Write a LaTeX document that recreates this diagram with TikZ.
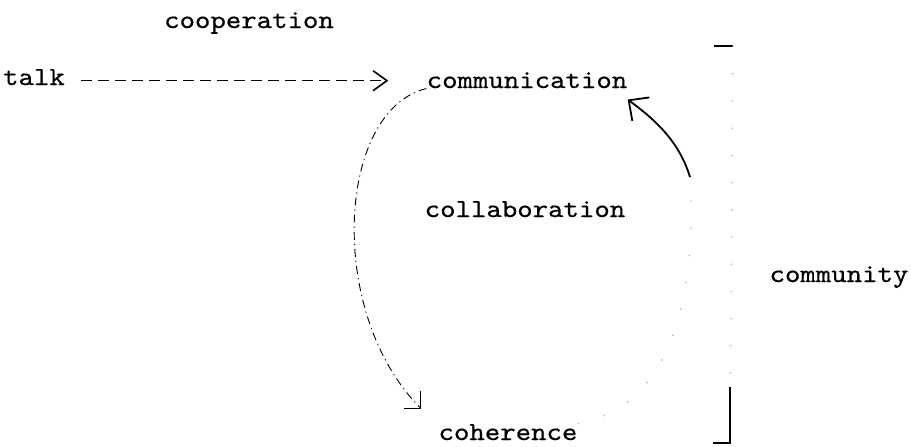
\documentclass[tikz,border=0pt]{standalone}
\usepackage{fontspec}
\setmonofont{lmmono10-regular.otf}[FakeStretch=1.13, FakeBold=0.5]
\usetikzlibrary{arrows.meta}

\tikzset{
    word/.style={anchor=base, inner sep=0pt, font=\ttfamily\fontsize{13}{15}\selectfont},
    talkarrow/.style={line width=0.8pt, dash pattern=on 5.5pt off 3pt, -{Straight Barb[length=7pt,width=10pt]}},
    looparrow/.style={line width=0.45pt, dash pattern=on 4pt off 2pt on 0.6pt off 2pt, -{Straight Barb[length=6pt,width=12pt]}},
    backarrow/.style={line width=0.9pt, -{Straight Barb[length=7.5pt,width=14.5pt]}},
    fadedline/.style={gray!70, line width=0.6pt, dash pattern=on 0.6pt off 13pt}
}

\begin{document}
\begin{tikzpicture}[x=0.5pt, y=-0.5pt]
    \useasboundingbox (0,0) rectangle (911,446);

    \node[word] (coop) at (249,28) {cooperation};
    \node[word] (talk) at (34,85) {talk};
    \node[word] (comm) at (527,88) {communication};
    \node[word] (collab) at (525,217) {collaboration};
    \node[word] (coh) at (508,440) {coherence};
    \node[word] (cmty) at (839,282) {community};

    \coordinate (bend) at (690,177);
    \coordinate (brtop) at (733,46);
    \coordinate (brbot) at (730,443);

    \draw[talkarrow, shorten <=8pt, shorten >=19pt] (talk.mid east) -- (talk.mid east -| comm.west);

    \draw[looparrow] (comm.south west) .. controls +(-90,22) and +(-95,-95) .. ([shift={(-17,-15)}]coh.north west);
    \draw[fadedline] (coh.north east) .. controls +(110,-20) and +(5,80) .. (bend);
    \draw[backarrow] (bend) .. controls +(-10,-32) and +(33,24) .. ([shift={(0,11)}]comm.south east);

    \draw[line width=1.2pt] ([shift={(-19,0)}]brtop) -- (brtop);
    \draw[fadedline] (brtop) -- (brbot);
    \draw[line width=0.8pt] ([shift={(0,-56)}]brbot) -- (brbot) -- ([shift={(-17,0)}]brbot);
\end{tikzpicture}
\end{document}
